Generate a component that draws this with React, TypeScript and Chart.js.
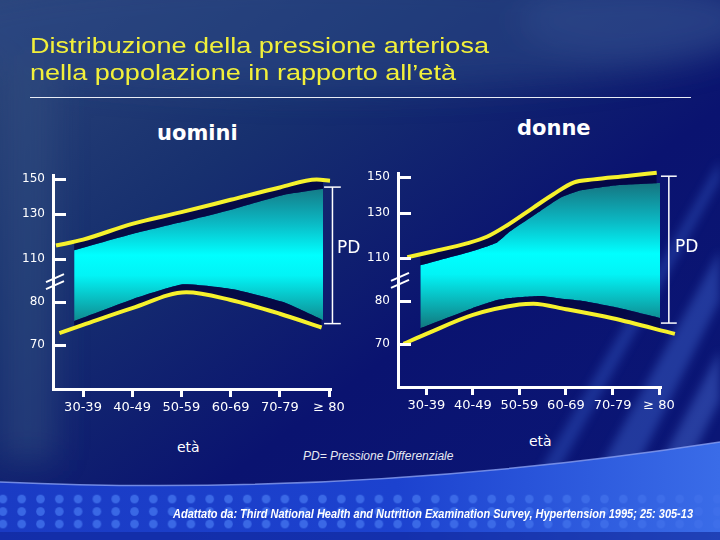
import React, { useEffect, useLayoutEffect, useRef } from 'react';
import { Chart, registerables } from 'chart.js';

Chart.register(...registerables);

// ---------------- data ----------------
const ageLabels = ['30-39', '40-49', '50-59', '60-69', '70-79', '≥ 80'];
const yTickValues = [70, 80, 110, 130, 150];

// uomini (men) – mmHg values, x in age-class units
const menHighX = [-0.55, 0, 1, 2, 3, 4, 4.75, 5.02];
const menHigh = [116, 118.6, 125.6, 131, 138, 145, 149.5, 148.8];
const menLowX = [-0.48, 0, 1, 2.1, 3, 4, 4.85];
const menLow = [72.8, 74.7, 78.6, 86.8, 81.5, 77.3, 74.1];
const menBandX = [-0.18, 1.02, 2.03, 3.05, 4.07, 4.88];
const menBandTop = [113.9, 121.2, 126.5, 132.7, 140.7, 144.2];
const menBandBottom = [75.6, 82.2, 92.4, 89, 80, 75.8];
const menPd = { x: 5.07, top: 145.2, bottom: 75 };

// donne (women)
const womenHighX = [-0.41, 0.16, 0.87, 1.3, 1.73, 2.3, 2.73, 3.16, 3.59, 4.31, 4.95];
const womenHigh = [110.3, 112.9, 116.4, 119.3, 124.3, 132.8, 140.3, 146.9, 148.7, 150.6, 152.5];
const womenLowX = [-0.49, 0, 1, 2, 2.3, 3, 4, 5.34];
const womenLow = [70.1, 72.4, 76.8, 79.2, 79.4, 78.1, 76, 72.4];
const womenBandX = [-0.13, 1.0, 1.52, 1.8, 2.45, 2.88, 3.3, 4.09, 5.06];
const womenBandTop = [104.8, 113, 116.8, 121.7, 130.9, 138.3, 142.4, 145.4, 146.7];
const womenBandBottom = [73.7, 78.4, 80.7, 82.1, 83.5, 81.8, 80.3, 78.5, 76];
const womenPd = { x: 5.21, top: 150.5, bottom: 74.9 };

// ---------------- broken (non-linear) y axis ----------------
const breakUnits = [0, 1, 2, 3.05, 3.87];
function toAxis(v: number): number {
  const b = yTickValues;
  const n = b.length;
  let i = 0;
  if (v >= b[n - 1]) i = n - 2;
  else while (i < n - 2 && v > b[i + 1]) i++;
  const t = (v - b[i]) / (b[i + 1] - b[i]);
  return breakUnits[i] + t * (breakUnits[i + 1] - breakUnits[i]);
}
const pts = (xs: number[], ys: number[]) => xs.map((x, i) => ({ x, y: toAxis(ys[i]) }));

// ---------------- styles ----------------
const YELLOW = '#f6f12c';
const SHADOW = 'rgba(3,6,62,0.85)';
const CAP = 0.17;
const FONT = "'DejaVu Sans', Verdana, sans-serif";

const bandFill = (ctx: any) => {
  const chart = ctx.chart;
  if (!chart.chartArea) return 'rgba(0,255,255,0.8)';
  const y = chart.scales.y;
  const y0 = y.getPixelForValue(toAxis(148));
  const y1 = y.getPixelForValue(toAxis(74));
  const g = chart.ctx.createLinearGradient(0, y0, 0, y1);
  g.addColorStop(0, '#16707c');
  g.addColorStop(0.28, '#0bb9c4');
  g.addColorStop(0.5, '#00ffff');
  g.addColorStop(0.64, '#02f4f6');
  g.addColorStop(1, '#117a80');
  return g;
};

const axisDecor = {
  id: 'axisDecor',
  afterDraw(chart: any) {
    const { ctx, chartArea, scales } = chart;
    const y = scales.y;
    const left = chartArea.left;
    ctx.save();
    ctx.strokeStyle = '#ffffff';
    ctx.lineWidth = 3;
    y.ticks.forEach((t: any) => {
      const py = Math.round(y.getPixelForValue(t.value)) + 0.5;
      ctx.beginPath();
      ctx.moveTo(left, py);
      ctx.lineTo(left + 13, py);
      ctx.stroke();
    });
    const by = y.getPixelForValue(1.5);
    ctx.lineWidth = 2;
    ctx.beginPath();
    ctx.moveTo(left - 7, by + 1.5);
    ctx.lineTo(left + 11, by - 6.5);
    ctx.moveTo(left - 7, by + 8.5);
    ctx.lineTo(left + 11, by + 0.5);
    ctx.stroke();
    ctx.restore();
  },
};

type Box = {
  left: number; top: number; w: number; h: number;
  yAxisW: number; xAxisH: number; padTop: number; padRight: number;
  xMin: number; xMax: number; yMin: number; yMax: number;
};
type Series = {
  highX: number[]; high: number[]; lowX: number[]; low: number[];
  bandX: number[]; bandTop: number[]; bandBottom: number[];
  pd: { x: number; top: number; bottom: number };
};

const menBox: Box = { left: 0, top: 160, w: 365, h: 270, yAxisW: 53, xAxisH: 41, padTop: 10, padRight: 35, xMin: -0.61, xMax: 5.02, yMin: -1.02, yMax: 3.95 };
const womenBox: Box = { left: 345, top: 158, w: 365, h: 270, yAxisW: 53, xAxisH: 41, padTop: 10, padRight: 50, xMin: -0.61, xMax: 5.02, yMin: -0.99, yMax: 3.96 };

function Panel({ box, s }: { box: Box; s: Series }) {
  const ref = useRef<HTMLCanvasElement>(null);
  useEffect(() => {
    const line = (data: any[], extra: any) => ({
      data, pointRadius: 0, pointHoverRadius: 0, fill: false, borderWidth: 0, ...extra,
    });
    const bracket = (data: any[]) => line(data, { borderColor: '#ffffff', borderWidth: 1.5, tension: 0, clip: false, order: 0 });
    const chart = new Chart(ref.current as HTMLCanvasElement, {
      type: 'line',
      data: {
        datasets: [
          line(pts(s.bandX, s.bandBottom), { tension: 0.15, borderColor: 'rgba(0,0,0,0)', order: 2 }),
          line(pts(s.bandX, s.bandTop), { tension: 0.15, borderColor: 'rgba(0,0,0,0)', fill: '-1', backgroundColor: bandFill, order: 2 }),
          line(pts(s.highX, s.high), { cubicInterpolationMode: 'monotone', borderColor: YELLOW, borderWidth: 4, fill: 1, backgroundColor: SHADOW, clip: false, order: 1 }),
          line(pts(s.lowX, s.low), { cubicInterpolationMode: 'monotone', borderColor: YELLOW, borderWidth: 4, fill: 0, backgroundColor: SHADOW, clip: false, order: 1 }),
          bracket([{ x: s.pd.x, y: toAxis(s.pd.top) }, { x: s.pd.x, y: toAxis(s.pd.bottom) }]),
          bracket([{ x: s.pd.x - CAP, y: toAxis(s.pd.top) }, { x: s.pd.x + CAP, y: toAxis(s.pd.top) }]),
          bracket([{ x: s.pd.x - CAP, y: toAxis(s.pd.bottom) }, { x: s.pd.x + CAP, y: toAxis(s.pd.bottom) }]),
        ],
      },
      options: {
        responsive: false,
        animation: false,
        events: [],
        layout: { padding: { top: box.padTop, right: box.padRight, left: 0, bottom: 0 } },
        plugins: { legend: { display: false }, tooltip: { enabled: false } },
        scales: {
          x: {
            type: 'linear',
            min: box.xMin,
            max: box.xMax,
            afterBuildTicks: (sc: any) => { sc.ticks = ageLabels.map((_, i) => ({ value: i })); },
            afterFit: (sc: any) => { sc.height = box.xAxisH; },
            ticks: {
              callback: (_v: any, i: number) => ageLabels[i],
              color: '#ffffff',
              font: { family: FONT, size: 13 },
              padding: 3,
              maxRotation: 0,
              autoSkip: false,
            },
            grid: { display: true, drawOnChartArea: false, drawTicks: true, tickLength: 8, color: '#ffffff', lineWidth: 3 },
            border: { display: true, color: '#ffffff', width: 3 },
          },
          y: {
            type: 'linear',
            min: box.yMin,
            max: box.yMax,
            afterBuildTicks: (sc: any) => { sc.ticks = yTickValues.map((v) => ({ value: toAxis(v) })); },
            afterFit: (sc: any) => { sc.width = box.yAxisW; },
            ticks: {
              callback: (_v: any, i: number) => String(yTickValues[i]),
              color: '#ffffff',
              font: { family: FONT, size: 12 },
              padding: 8,
            },
            grid: { display: false, drawTicks: false },
            border: { display: true, color: '#ffffff', width: 3 },
          },
        },
      },
      plugins: [axisDecor],
    } as any);
    return () => chart.destroy();
  }, []);
  return (
    <canvas
      ref={ref}
      width={box.w}
      height={box.h}
      style={{ position: 'absolute', left: box.left, top: box.top, width: box.w, height: box.h }}
    />
  );
}

function FitText({ text, left, top, width, style }: { text: string; left: number; top: number; width: number; style: React.CSSProperties }) {
  const ref = useRef<HTMLDivElement>(null);
  useLayoutEffect(() => {
    const el = ref.current;
    if (!el) return;
    const fit = () => {
      el.style.transform = 'none';
      const w = el.getBoundingClientRect().width;
      if (w > 0) el.style.transform = `scaleX(${width / w})`;
    };
    fit();
    if ((document as any).fonts) (document as any).fonts.ready.then(fit);
  }, [width]);
  return (
    <div ref={ref} style={{ position: 'absolute', left, top, whiteSpace: 'nowrap', transformOrigin: '0 0', ...style }}>
      {text}
    </div>
  );
}

function Background() {
  return (
    <svg width={720} height={540} style={{ position: 'absolute', left: 0, top: 0 }}>
      <defs>
        <linearGradient id="bg" x1="0" y1="0" x2="1" y2="1">
          <stop offset="0" stopColor="#2d4679" />
          <stop offset="0.3" stopColor="#17306f" />
          <stop offset="0.6" stopColor="#0a1370" />
          <stop offset="1" stopColor="#0b1778" />
        </linearGradient>
        <filter id="blur"><feGaussianBlur stdDeviation="16" /></filter>
        <filter id="blur2"><feGaussianBlur stdDeviation="5" /></filter>
        <linearGradient id="band" x1="0" y1="0" x2="1" y2="0">
          <stop offset="0" stopColor="#1a3bc4" />
          <stop offset="0.55" stopColor="#1c42cf" />
          <stop offset="1" stopColor="#3a6ce8" />
        </linearGradient>
        <pattern id="dots" width="18.8" height="12.5" patternUnits="userSpaceOnUse" x="12.3" y="492.8">
          <circle cx="9.4" cy="6.25" r="4.3" fill="#3f6fea" />
        </pattern>
      </defs>
      <rect width={720} height={540} fill="url(#bg)" />
      <g filter="url(#blur)" opacity={0.55}>
        <ellipse cx={330} cy={30} rx={420} ry={60} fill="#2a4785" />
        <ellipse cx={640} cy={20} rx={120} ry={40} fill="#3a5a95" />
        <rect x={0} y={60} width={55} height={400} fill="#324d80" />
      </g>
      <g filter="url(#blur2)" opacity={0.35}>
        <polygon points="560,540 600,540 720,300 720,250" fill="#4d7de8" />
        <polygon points="620,540 650,540 720,400 720,350" fill="#5b88ee" />
        <polygon points="500,540 520,540 720,180 720,160" fill="#3e6ad8" />
      </g>
      <path d="M0,482 C220,492 460,482 720,442 L720,540 L0,540 Z" fill="url(#band)" />
      <rect x={0} y={493} width={720} height={38} fill="url(#dots)" opacity={0.85} />
      <rect x={0} y={532} width={720} height={8} fill="#0f2596" opacity={0.6} />
      <path d="M0,482 C220,492 460,482 720,442" stroke="#8aa0f2" strokeWidth={1.5} fill="none" opacity={0.8} />
    </svg>
  );
}

const menSeries: Series = { highX: menHighX, high: menHigh, lowX: menLowX, low: menLow, bandX: menBandX, bandTop: menBandTop, bandBottom: menBandBottom, pd: menPd };
const womenSeries: Series = { highX: womenHighX, high: womenHigh, lowX: womenLowX, low: womenLow, bandX: womenBandX, bandTop: womenBandTop, bandBottom: womenBandBottom, pd: womenPd };

export default function App() {
  const titleStyle: React.CSSProperties = { fontFamily: "'Liberation Sans', Arial, sans-serif", fontSize: 22, lineHeight: '27px', color: '#f2f03a' };
  const head: React.CSSProperties = { position: 'absolute', fontFamily: FONT, fontWeight: 'bold', fontSize: 21, lineHeight: '21px', color: '#ffffff', whiteSpace: 'nowrap' };
  const eta: React.CSSProperties = { position: 'absolute', fontFamily: FONT, fontSize: 14, lineHeight: '14px', color: '#ffffff', whiteSpace: 'nowrap' };
  const pd: React.CSSProperties = { position: 'absolute', fontFamily: FONT, fontSize: 17, lineHeight: '17px', color: '#ffffff', whiteSpace: 'nowrap' };
  return (
    <div style={{ position: 'fixed', left: 0, top: 0, width: 720, height: 540, overflow: 'hidden', background: '#0b1470' }}>
      <Background />
      <FitText text="Distribuzione della pressione arteriosa" left={30} top={32} width={459} style={titleStyle} />
      <FitText text="nella popolazione in rapporto all’età" left={30} top={59} width={426} style={titleStyle} />
      <div style={{ position: 'absolute', left: 30, top: 97, width: 661, height: 1, background: '#e8ecf5' }} />
      <div style={{ ...head, left: 157, top: 123 }}>uomini</div>
      <div style={{ ...head, left: 517, top: 118 }}>donne</div>
      <Panel box={menBox} s={menSeries} />
      <Panel box={womenBox} s={womenSeries} />
      <div style={{ ...pd, left: 337, top: 239 }}>PD</div>
      <div style={{ ...pd, left: 675, top: 238 }}>PD</div>
      <div style={{ ...eta, left: 177, top: 440 }}>età</div>
      <div style={{ ...eta, left: 529, top: 434 }}>età</div>
      <div style={{ position: 'absolute', left: 303, top: 450, fontFamily: "'Liberation Sans', Arial, sans-serif", fontStyle: 'italic', fontSize: 12, lineHeight: '12px', color: '#e6e8f2', whiteSpace: 'nowrap' }}>
        PD= Pressione Differenziale
      </div>
      <FitText
        text="Adattato da: Third National Health and Nutrition Examination Survey, Hypertension 1995; 25: 305-13"
        left={173}
        top={507}
        width={520}
        style={{ fontFamily: "'Liberation Sans Narrow', 'Liberation Sans', Arial, sans-serif", fontWeight: 'bold', fontStyle: 'italic', fontSize: 13, lineHeight: '14px', color: '#ffffff' }}
      />
    </div>
  );
}
